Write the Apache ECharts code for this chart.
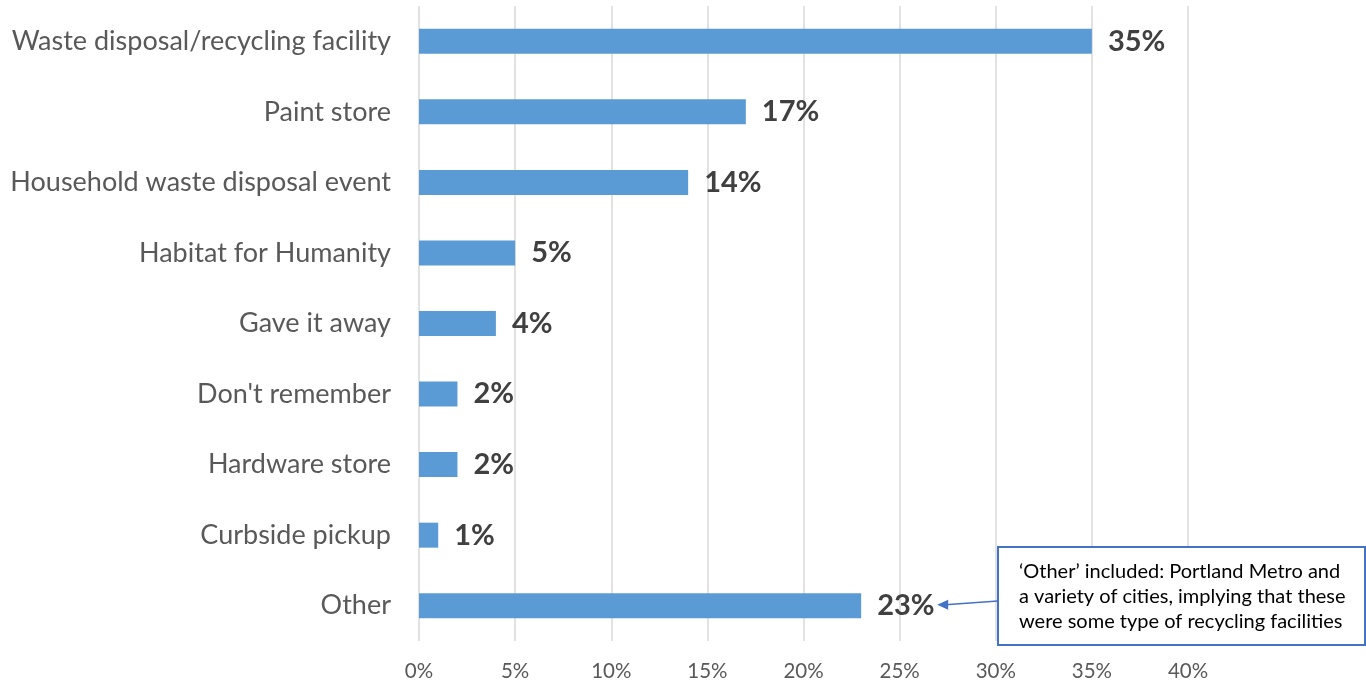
<!DOCTYPE html>
<html>
<head>
<meta charset="utf-8">
<script src="https://cdn.jsdelivr.net/npm/echarts@6/dist/echarts.min.js"></script>
<style>
  html, body { margin: 0; padding: 0; background: #ffffff; }
  #chart { width: 1366px; height: 685px; }
</style>
</head>
<body>
<div id="chart"></div>
<script>
// Where respondents took leftover paint (share of responses, %)
const categories = [
  'Waste disposal/recycling facility',
  'Paint store',
  'Household waste disposal event',
  'Habitat for Humanity',
  'Gave it away',
  "Don't remember",
  'Hardware store',
  'Curbside pickup',
  'Other'
];
const shares = [35, 17, 14, 5, 4, 2, 2, 1, 23];
const tickValues = [0, 5, 10, 15, 20, 25, 30, 35, 40];
const noteLines = [
  '\u2018Other\u2019 included: Portland Metro and',
  'a variety of cities, implying that these',
  'were some type of recycling facilities'
];

const FONT = 'Lato, "Open Sans", sans-serif';
const chart = echarts.init(document.getElementById('chart'), null, { renderer: 'canvas' });

chart.setOption({
  animation: false,
  backgroundColor: '#ffffff',
  grid: { left: 419, right: 178, top: 6, bottom: 44, containLabel: false },
  xAxis: {
    type: 'value',
    min: 0,
    max: 40,
    interval: 5,
    axisLine: { show: false },
    axisTick: { show: false },
    splitLine: { show: true, lineStyle: { color: '#d9d9d9', width: 1.5 } },
    axisLabel: {
      color: '#595959',
      fontFamily: FONT,
      fontSize: 20.5,
      margin: 20,
      formatter: v => (tickValues.includes(v) ? v + '%' : '')
    }
  },
  yAxis: {
    type: 'category',
    data: categories,
    inverse: true,
    axisLine: { show: false },
    axisTick: { show: false },
    splitLine: { show: false },
    axisLabel: {
      color: '#595959',
      fontFamily: FONT,
      fontSize: 27,
      margin: 28
    }
  },
  series: [{
    type: 'bar',
    data: shares,
    barWidth: 25,
    itemStyle: { color: '#5b9bd5' },
    label: {
      show: true,
      position: 'right',
      distance: 16,
      formatter: p => p.value + '%',
      color: '#404040',
      fontFamily: FONT,
      fontWeight: 'bold',
      fontSize: 29
    }
  }]
});

// Callout box explaining the "Other" category, with an arrow to its label
function drawNote() {
  const idx = categories.indexOf('Other');
  const tip = chart.convertToPixel({ xAxisIndex: 0, yAxisIndex: 0 }, [shares[idx], idx]);
  const arrowEndX = tip[0] + 16 + 60;
  const boxX = 998, boxY = 547, boxW = 367, boxH = 98;
  const midY = boxY + boxH / 2 + 5;
  chart.setOption({
    graphic: [
      {
        type: 'rect',
        shape: { x: boxX, y: boxY, width: boxW, height: boxH },
        style: { fill: '#ffffff', stroke: '#4472c4', lineWidth: 2 },
        z: 10
      },
      {
        type: 'text',
        x: boxX + 21,
        y: boxY + 12,
        style: {
          text: noteLines.join('\n'),
          fill: '#000000',
          font: '20px ' + FONT,
          lineHeight: 25
        },
        z: 11
      },
      {
        type: 'line',
        shape: { x1: boxX, y1: midY, x2: arrowEndX + 8, y2: tip[1] - 1 },
        style: { stroke: '#4472c4', lineWidth: 1.5 },
        z: 10
      },
      {
        type: 'polygon',
        shape: { points: [[arrowEndX, tip[1] - 1], [arrowEndX + 11, tip[1] - 6], [arrowEndX + 11, tip[1] + 4]] },
        style: { fill: '#4472c4' },
        z: 10
      }
    ]
  });
}
drawNote();
</script>
</body>
</html>
